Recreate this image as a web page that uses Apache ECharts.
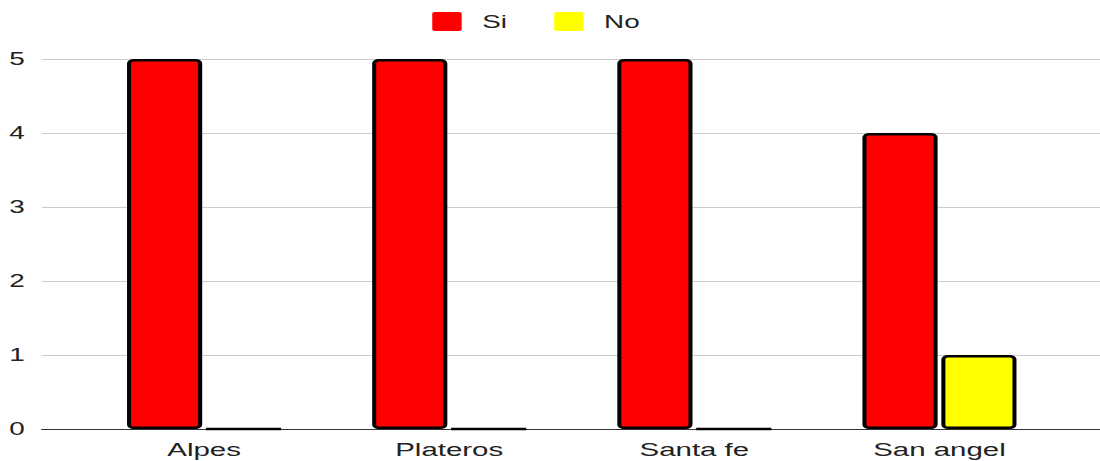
<!DOCTYPE html>
<html>
<head>
<meta charset="utf-8">
<script src="https://cdn.jsdelivr.net/npm/echarts@6/dist/echarts.min.js"></script>
<style>
html,body{margin:0;padding:0;background:#fff;}
#wrap{width:1100px;height:461px;overflow:hidden;position:relative;}
#c{width:710px;height:461px;transform:scaleX(1.5493);transform-origin:0 0;}
</style>
</head>
<body>
<div id="wrap"><div id="c"></div></div>
<script>
const categories = ['Alpes', 'Plateros', 'Santa fe', 'San angel'];
const siValues = [5, 5, 5, 4];
const noValues = [0, 0, 0, 1];
const yMin = 0, yMax = 5, yInterval = 1;

const font = "'Liberation Sans', Arial, sans-serif";
const chart = echarts.init(document.getElementById('c'), null, {renderer: 'svg'});
chart.setOption({
  animation: false,
  backgroundColor: '#ffffff',
  legend: {
    left: 279, top: 12, padding: 0,
    itemWidth: 19.4, itemHeight: 19, itemGap: 30.5,
    icon: 'path://M2,0H18A2,2 0 0 1 20,2V18A2,2 0 0 1 18,20H2A2,2 0 0 1 0,18V2A2,2 0 0 1 2,0Z',
    itemStyle: {borderWidth: 0},
    textStyle: {fontFamily: font, fontSize: 18, color: '#222', padding: [0, 0, 0, 8]},
    data: ['Si', 'No']
  },
  grid: [
    {left: 27, right: 0, top: 59, bottom: 32},
    {left: 52.6, right: 24.5, top: 59, bottom: 32}
  ],
  xAxis: [
    {type: 'category', gridIndex: 0, data: categories,
     axisLine: {show: true, lineStyle: {color: '#333', width: 1}},
     axisTick: {show: false}, axisLabel: {show: false}, splitLine: {show: false}},
    {type: 'category', gridIndex: 1, data: categories,
     axisLine: {show: false}, axisTick: {show: false},
     axisLabel: {fontFamily: font, fontSize: 19, color: '#222', margin: 11}}
  ],
  yAxis: [
    {type: 'value', gridIndex: 0, min: yMin, max: yMax, interval: yInterval,
     axisLine: {show: false}, axisTick: {show: false},
     axisLabel: {fontFamily: font, fontSize: 18, color: '#222', margin: 11},
     splitLine: {lineStyle: {color: '#cccccc', width: 1}}},
    {type: 'value', gridIndex: 1, min: yMin, max: yMax, interval: yInterval, show: false,
     splitLine: {show: false}}
  ],
  series: [
    {name: 'Si', type: 'bar', xAxisIndex: 1, yAxisIndex: 1, data: siValues,
     barWidth: 48.5, barGap: '5%',
     itemStyle: {color: '#ff0000', borderColor: '#000', borderWidth: 2.6, borderRadius: 3}},
    {name: 'No', type: 'bar', xAxisIndex: 1, yAxisIndex: 1, data: noValues,
     barWidth: 48.5, barGap: '5%',
     itemStyle: {color: '#ffff00', borderColor: '#000', borderWidth: 2.6, borderRadius: 3}}
  ]
});
</script>
</body>
</html>
